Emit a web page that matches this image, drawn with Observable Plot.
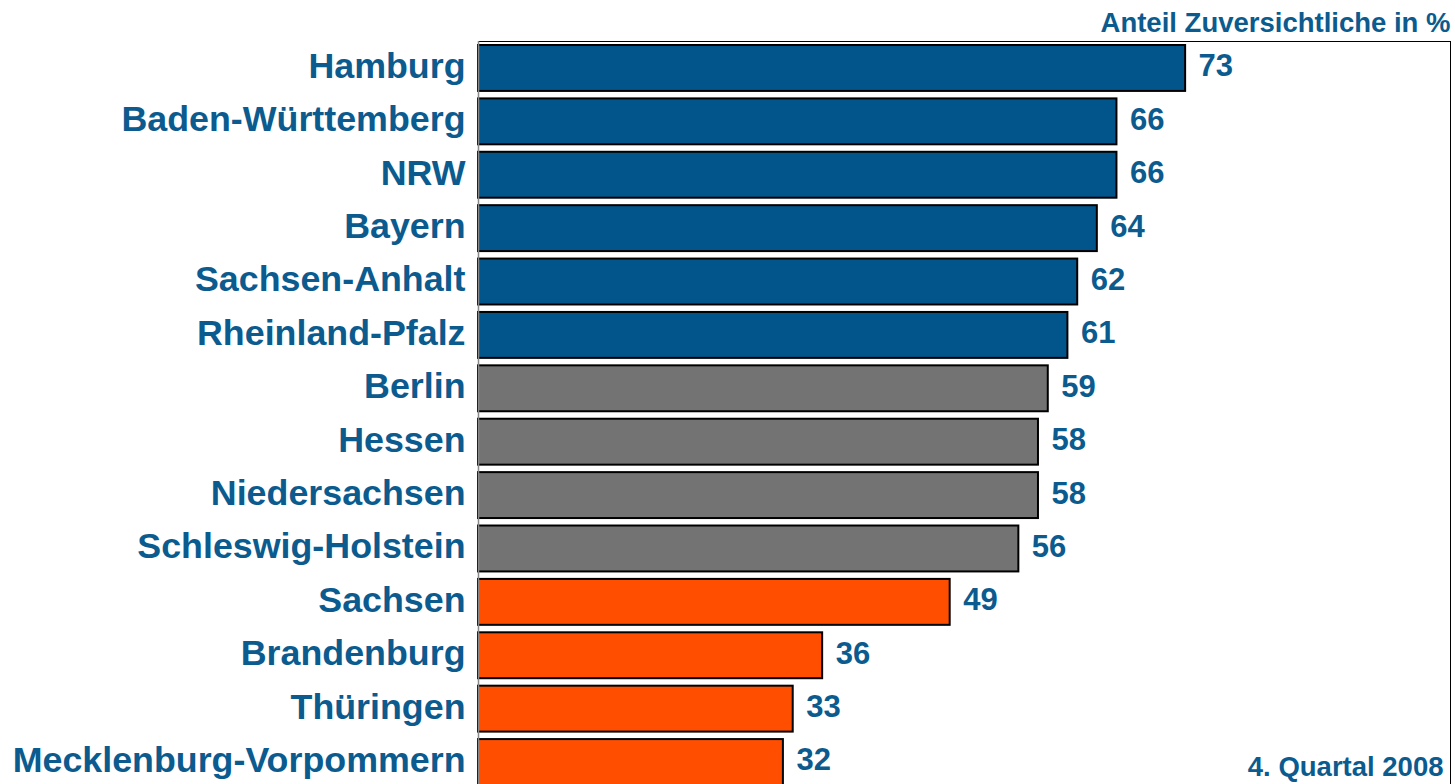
<!DOCTYPE html>
<html>
<head>
<meta charset="utf-8">
<script src="https://cdn.jsdelivr.net/npm/d3@7"></script>
<script src="https://cdn.jsdelivr.net/npm/@observablehq/plot@0.6"></script>
<style>
  html, body { margin: 0; padding: 0; background: #fff; overflow: hidden; }
  #chart svg { display: block; }
</style>
</head>
<body>
<div id="chart"></div>
<script>
const laender = ["Hamburg", "Baden-Württemberg", "NRW", "Bayern", "Sachsen-Anhalt", "Rheinland-Pfalz",
  "Berlin", "Hessen", "Niedersachsen", "Schleswig-Holstein", "Sachsen", "Brandenburg", "Thüringen",
  "Mecklenburg-Vorpommern"];
const werte = [73, 66, 66, 64, 62, 61, 59, 58, 58, 56, 49, 36, 33, 32];
const gruppen = ["hoch", "hoch", "hoch", "hoch", "hoch", "hoch", "mittel", "mittel", "mittel", "mittel",
  "niedrig", "niedrig", "niedrig", "niedrig"];
const gruppenNamen = ["hoch", "mittel", "niedrig"];
const gruppenFarben = ["#02558a", "#737373", "#ff4e00"];
const titel = "Anteil Zuversichtliche in %";
const fussnote = "4. Quartal 2008";

const textBlau = "#0b5b8f";
const xStart = 0.92;
const data = laender.map((land, i) => ({land, wert: werte[i], gruppe: gruppen[i]}));

const chart = Plot.plot({
  width: 1455,
  height: 790,
  marginTop: 41,
  marginBottom: 1,
  marginLeft: 478,
  marginRight: 5,
  style: {fontFamily: "'Liberation Sans', Arial, sans-serif", background: "#fff"},
  x: {domain: [xStart, 100], axis: null},
  y: {domain: laender, paddingInner: 0.14, paddingOuter: 0.075, round: false, axis: null},
  color: {domain: gruppenNamen, range: gruppenFarben},
  marks: [
    Plot.frame({stroke: "#000", strokeWidth: 1}),
    Plot.barX(data, {x1: () => xStart, x2: "wert", y: "land", fill: "gruppe", stroke: "#000", strokeWidth: 2}),
    Plot.ruleX([xStart], {stroke: "#888", strokeWidth: 1.5}),
    Plot.axisY({tickSize: 0, tickPadding: 13, label: null, fontSize: 35.8, fontWeight: "bold", fill: textBlau, dy: -2}),
    Plot.text(data, {x: "wert", y: "land", text: d => String(d.wert), textAnchor: "start", dx: 13, dy: -2,
      fontSize: 31, fontWeight: "bold", fill: textBlau}),
    Plot.text([titel], {frameAnchor: "top-right", text: d => d, textAnchor: "end", lineAnchor: "bottom",
      dy: -10, fontSize: 27.5, fontWeight: "bold", fill: textBlau}),
    Plot.text([fussnote], {frameAnchor: "bottom-right", text: d => d, textAnchor: "end", lineAnchor: "bottom",
      dx: -7, dy: -14, fontSize: 27.5, fontWeight: "bold", fill: textBlau})
  ]
});
document.getElementById("chart").appendChild(chart);
</script>
</body>
</html>
